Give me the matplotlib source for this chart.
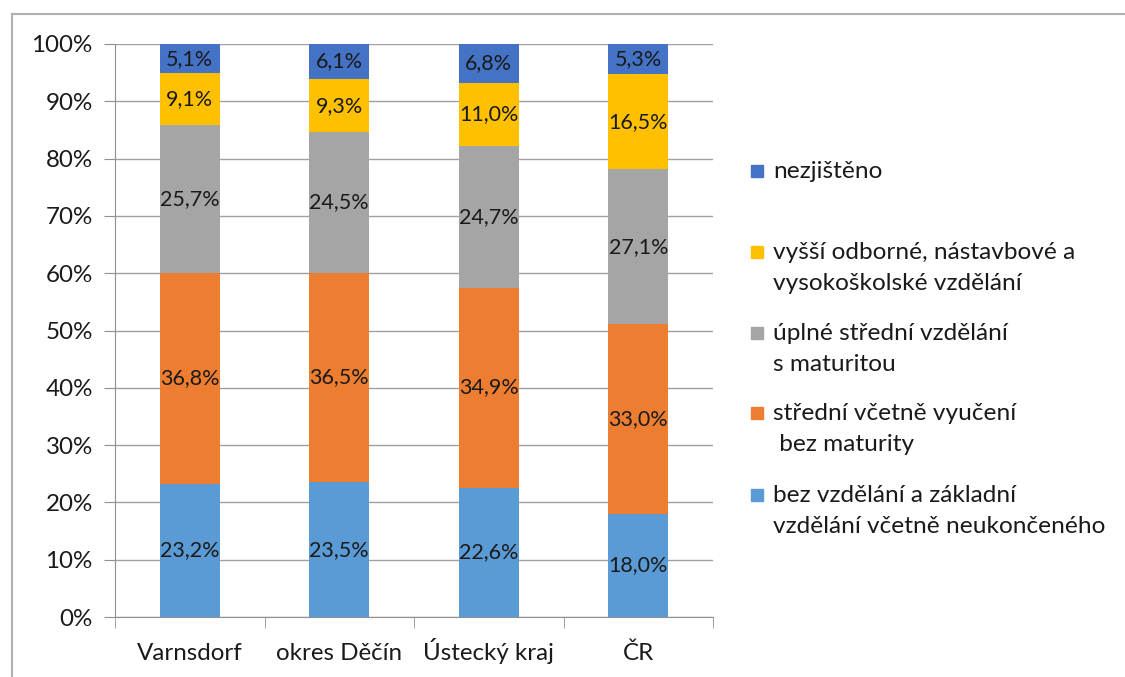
import matplotlib
matplotlib.use("Agg")
import matplotlib.pyplot as plt
from matplotlib.patches import Rectangle
from matplotlib.lines import Line2D
import numpy as np

plt.rcParams['font.family'] = ['Lato', 'DejaVu Sans']

categories = ["Varnsdorf", "okres Děčín", "Ústecký kraj", "ČR"]
series_names = [
    "bez vzdělání a základní\nvzdělání včetně neukončeného",
    "střední včetně vyučení\n bez maturity",
    "úplné střední vzdělání\ns maturitou",
    "vyšší odborné, nástavbové a\nvysokoškolské vzdělání",
    "nezjištěno",
]
zakladni = [23.2, 23.5, 22.6, 18.0]
vyuceni = [36.8, 36.5, 34.9, 33.0]
maturita = [25.7, 24.5, 24.7, 27.1]
vysoka = [9.1, 9.3, 11.0, 16.5]
nezjisteno = [5.1, 6.1, 6.8, 5.3]
colors = ["#5B9BD5", "#ED7D31", "#A5A5A5", "#FFC000", "#4472C4"]
y_ticks = [0, 10, 20, 30, 40, 50, 60, 70, 80, 90, 100]

TXT = "#1a1a1a"
W, H = 1125, 677
fig = plt.figure(figsize=(W / 100, H / 100), dpi=100)
ax = fig.add_axes([115 / W, 1 - 617 / H, (713 - 115) / W, (617 - 44) / H])

data = np.array([zakladni, vyuceni, maturita, vysoka, nezjisteno])
totals = data.sum(axis=0)
norm = data / totals * 100
x = np.arange(len(categories))
bottom = np.zeros(len(categories))
for i, (vals, nvals) in enumerate(zip(data, norm)):
    ax.bar(x, nvals, 0.4, bottom=bottom, color=colors[i], zorder=2)
    for xi, v, nv, b in zip(x, vals, nvals, bottom):
        ax.text(xi, b + nv / 2, f"{v:.1f}%".replace(".", ","), ha="center",
                va="center", fontsize=15.5, color=TXT, zorder=3)
    bottom += nvals

ax.set_xlim(-0.5, len(categories) - 0.5)
ax.set_ylim(0, 100)
ax.set_yticks(y_ticks)
ax.set_yticklabels([f"{t}%" for t in y_ticks], fontsize=17.4, color=TXT)
ax.yaxis.grid(True, color="#A0A0A0", linewidth=1, zorder=0)
ax.set_axisbelow(True)
ax.set_xticks(x)
ax.set_xticklabels(categories, fontsize=17.4, color=TXT)
for lab in ax.get_xticklabels():
    lab.set_va("baseline")
ax.tick_params(axis="x", which="major", length=0, pad=31)
ax.set_xticks(np.arange(-0.5, len(categories) + 0.5, 1), minor=True)
ax.tick_params(axis="x", which="minor", length=8, color="#909090")
ax.tick_params(axis="y", length=8, color="#909090", pad=8)
for s in ["top", "right"]:
    ax.spines[s].set_visible(False)
for s in ["left", "bottom"]:
    ax.spines[s].set_color("#909090")

# legend (manual, Excel-like)
legend_y = [171, 252, 333, 413, 495]
for name, col, yy in zip(series_names[::-1], colors[::-1], legend_y):
    fig.patches.append(Rectangle((751 / W, 1 - (yy + 6) / H), 12 / W, 12 / H,
                                 transform=fig.transFigure, color=col))
    fig.text(773 / W, 1 - (yy - 10) / H, name, fontsize=17.6, color=TXT,
             va="top", ha="left", linespacing=1.58)

# outer frame
fig.add_artist(Line2D([12 / W, 1], [1 - 13.5 / H, 1 - 13.5 / H], color="#B0B0B0", lw=1.5))
fig.add_artist(Line2D([12 / W, 12 / W], [1 - 13.5 / H, 0], color="#B0B0B0", lw=1.5))

fig.savefig("out.png", dpi=100)
